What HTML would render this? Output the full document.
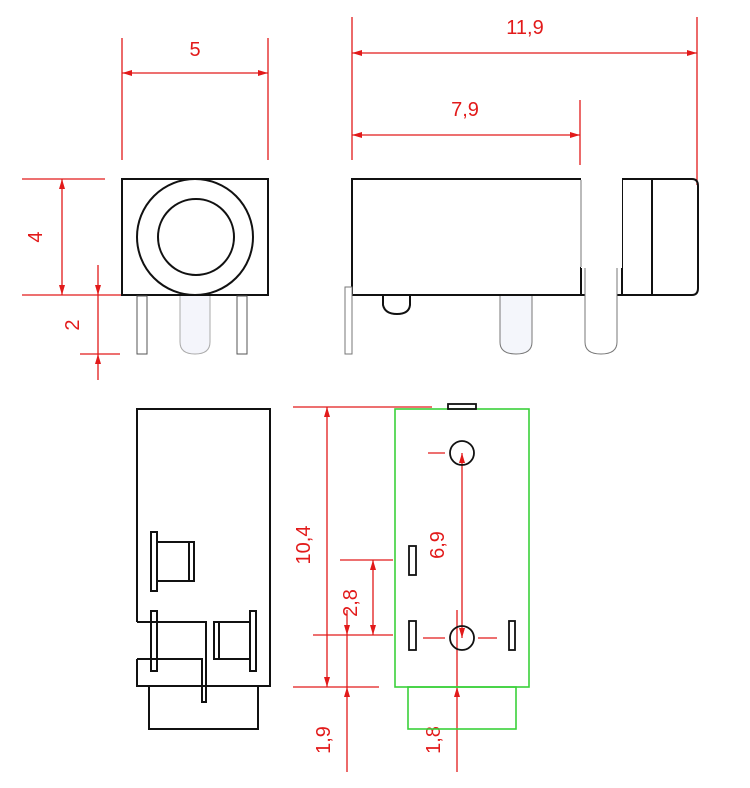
<!DOCTYPE html>
<html><head><meta charset="utf-8"><style>html,body{margin:0;padding:0;background:#fff}svg{display:block}text{font-family:"Liberation Sans",sans-serif;fill:#e21a1a;font-size:20px}</style></head><body>
<svg width="750" height="788" viewBox="0 0 750 788" xmlns="http://www.w3.org/2000/svg">
<defs>
<marker id="a" viewBox="0 0 10 10" refX="10" refY="5" markerWidth="10" markerHeight="10" orient="auto-start-reverse" markerUnits="userSpaceOnUse"><path d="M0,2 L10,5 L0,8 z" fill="#e21a1a"/></marker>
</defs>
<g stroke="#e21a1a" stroke-width="1.3" fill="none">
<line x1="122" y1="38" x2="122" y2="160"/><line x1="268" y1="38" x2="268" y2="160"/>
<line x1="122" y1="73" x2="268" y2="73" marker-start="url(#a)" marker-end="url(#a)"/>
<line x1="22" y1="179" x2="105" y2="179"/><line x1="22" y1="295" x2="122" y2="295"/>
<line x1="62" y1="179" x2="62" y2="295" marker-start="url(#a)" marker-end="url(#a)"/>
<line x1="98" y1="265" x2="98" y2="295" marker-end="url(#a)"/>
<line x1="98" y1="295" x2="98" y2="354"/>
<line x1="98" y1="380" x2="98" y2="354" marker-end="url(#a)"/>
<line x1="80" y1="354" x2="120" y2="354"/>
<line x1="352" y1="17" x2="352" y2="160"/><line x1="697" y1="17" x2="697" y2="185"/>
<line x1="352" y1="53" x2="697" y2="53" marker-start="url(#a)" marker-end="url(#a)"/>
<line x1="580" y1="100" x2="580" y2="165"/>
<line x1="352" y1="135" x2="580" y2="135" marker-start="url(#a)" marker-end="url(#a)"/>
<line x1="293" y1="407" x2="432" y2="407"/><line x1="293" y1="687" x2="379" y2="687"/>
<line x1="327" y1="407" x2="327" y2="687" marker-start="url(#a)" marker-end="url(#a)"/>
<line x1="340" y1="560" x2="393" y2="560"/><line x1="313" y1="635" x2="393" y2="635"/>
<line x1="373" y1="560" x2="373" y2="635" marker-start="url(#a)" marker-end="url(#a)"/>
<line x1="347" y1="610" x2="347" y2="635" marker-end="url(#a)"/>
<line x1="347" y1="772" x2="347" y2="687" marker-end="url(#a)"/>
<line x1="347" y1="635" x2="347" y2="687"/>
<line x1="462" y1="453" x2="462" y2="638" marker-start="url(#a)" marker-end="url(#a)"/>
<line x1="428" y1="453" x2="445" y2="453"/>
<line x1="423" y1="638" x2="445" y2="638"/><line x1="478" y1="638" x2="497" y2="638"/>
<line x1="457" y1="610" x2="457" y2="687"/>
<line x1="457" y1="772" x2="457" y2="687" marker-end="url(#a)"/>
</g>
<text x="195" y="56" text-anchor="middle">5</text>
<text x="525" y="34" text-anchor="middle">11,9</text>
<text x="465" y="116" text-anchor="middle">7,9</text>
<text transform="translate(42,237) rotate(-90)" text-anchor="middle">4</text>
<text transform="translate(79,325) rotate(-90)" text-anchor="middle">2</text>
<text transform="translate(310,545) rotate(-90)" text-anchor="middle">10,4</text>
<text transform="translate(357,603) rotate(-90)" text-anchor="middle">2,8</text>
<text transform="translate(444,545) rotate(-90)" text-anchor="middle">6,9</text>
<text transform="translate(330,740) rotate(-90)" text-anchor="middle">1,9</text>
<text transform="translate(440,740) rotate(-90)" text-anchor="middle">1,8</text>
<g stroke="#111" stroke-width="2" fill="none">
<rect x="122" y="179" width="146" height="116"/>
<circle cx="195" cy="237" r="58"/>
<circle cx="196" cy="237" r="38"/>
</g>
<g stroke="#555" stroke-width="1" fill="#fff">
<rect x="137" y="296" width="10" height="58"/>
<rect x="237" y="296" width="10" height="58"/>
<path d="M180,296 L180,342 Q180,354 195,354 Q210,354 210,342 L210,296" fill="#f4f5fb" stroke="#aaa"/>
</g>
<g stroke="#111" stroke-width="2" fill="none">
<path d="M352,179 L692,179 Q698,179 698,186 L698,288 Q698,295 692,295 L352,295 Z"/>
<line x1="622" y1="179" x2="622" y2="295"/>
<line x1="652" y1="179" x2="652" y2="295"/>
<line x1="581" y1="267" x2="581" y2="295"/>
<path d="M383,296 L383,305 Q385,314 397,314 Q409,314 410,305 L410,296"/>
</g>
<rect x="581" y="178" width="41" height="90" fill="#fff"/>
<g stroke="#777" stroke-width="1" fill="#fff">
<line x1="581" y1="180" x2="581" y2="267"/>
<path d="M585,268 L585,342 Q585,354 601,354 Q617,354 617,342 L617,268" fill="#fff"/>
<path d="M500,296 L500,342 Q500,354 516,354 Q532,354 532,342 L532,296" fill="#f4f6fb"/>
<rect x="345" y="287" width="7" height="67"/>
</g>
<g stroke="#111" stroke-width="2" fill="none">
<path d="M137,622 L137,409 L270,409 L270,686 L137,686 L137,659"/>
<path d="M137,622 L206,622 L206,702 L202,702 L202,659 L137,659"/>
<rect x="149" y="686" width="109" height="43"/>
<rect x="151" y="532" width="6" height="59"/>
<rect x="157" y="542" width="37" height="39"/>
<line x1="189" y1="542" x2="189" y2="581"/>
<rect x="151" y="611" width="6" height="60"/>
<rect x="250" y="611" width="6" height="60"/>
<rect x="214" y="622" width="36" height="37"/>
<line x1="219" y1="622" x2="219" y2="659"/>
</g>
<g stroke="#3ad03a" stroke-width="1.6" fill="none">
<rect x="395" y="409" width="134" height="278"/>
<rect x="408" y="687" width="108" height="42"/>
</g>
<g stroke="#111" stroke-width="1.8" fill="none">
<rect x="448" y="404" width="28" height="5"/>
<circle cx="462" cy="453" r="12"/>
<circle cx="462" cy="638" r="12"/>
<rect x="409" y="546" width="7" height="29"/>
<rect x="409" y="621" width="7" height="29"/>
<rect x="509" y="621" width="6" height="29"/>
</g>
</svg>
</body></html>
